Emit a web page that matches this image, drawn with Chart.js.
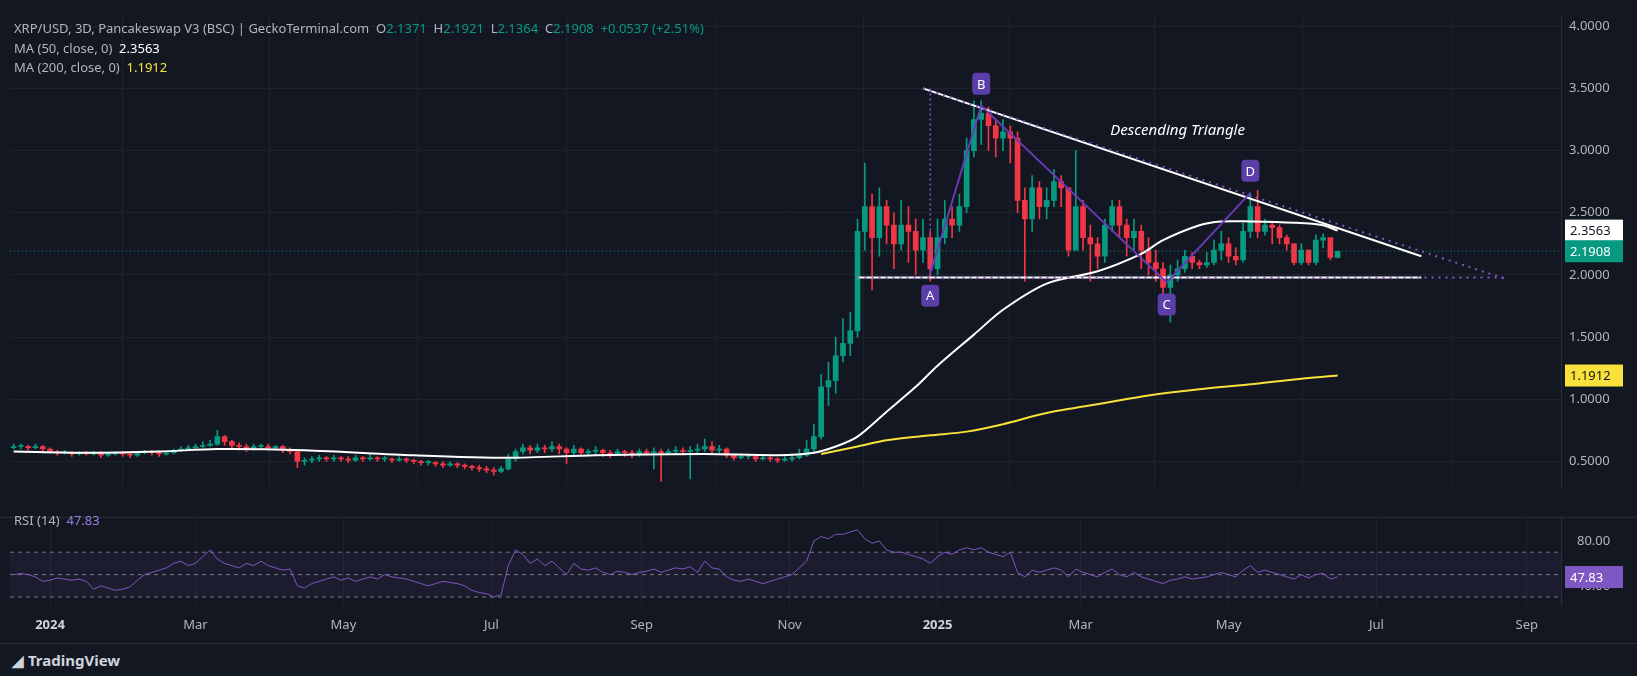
<!DOCTYPE html>
<html>
<head>
<meta charset="utf-8">
<script src="https://cdn.jsdelivr.net/npm/chart.js@4.4.1/dist/chart.umd.min.js"></script>
<style>
  body { margin: 0; background: #131722; width: 1637px; height: 676px; overflow: hidden; font-family: "Noto Sans", sans-serif; }
  .wrap { position: absolute; left: 0; width: 1637px; }
  #mainWrap { top: 0; height: 503px; }
  #rsiWrap { top: 503px; height: 140px; }
  .txt { position: absolute; color: #b2b5be; font-size: 13px; white-space: nowrap; }
  .g { color: #089981; }
  #footer { position: absolute; left: 0; top: 643px; width: 1637px; height: 33px; background: #131722; border-top: 1px solid #2a2e39; }
</style>
</head>
<body>
<div id="mainWrap" class="wrap"><canvas id="mainChart"></canvas></div>
<div id="rsiWrap" class="wrap"><canvas id="rsiChart"></canvas></div>
<div id="footer"></div>

<div class="txt" style="left:14px;top:19px">XRP/USD, 3D, Pancakeswap V3 (BSC) | GeckoTerminal.com&nbsp;&nbsp;O<span class="g">2.1371</span>&nbsp;&nbsp;H<span class="g">2.1921</span>&nbsp;&nbsp;L<span class="g">2.1364</span>&nbsp;&nbsp;C<span class="g">2.1908</span>&nbsp;&nbsp;<span class="g">+0.0537 (+2.51%)</span></div>
<div class="txt" style="left:14px;top:39px">MA (50, close, 0)&nbsp;&nbsp;<span style="color:#fff">2.3563</span></div>
<div class="txt" style="left:14px;top:58px">MA (200, close, 0)&nbsp;&nbsp;<span style="color:#f7e13a">1.1912</span></div>
<div class="txt" style="left:14px;top:511px">RSI (14)&nbsp;&nbsp;<span style="color:#9b7de0">47.83</span></div>
<div class="txt" style="left:12px;top:650px;color:#d1d4dc;font-size:15px;font-weight:bold;">&#9698; TradingView</div>

<script>
// 3-day candles, index 0 = 2023-12-17
const closes = [
  0.62,0.62,0.61,0.62,0.60,
  0.58,0.57,0.57,0.56,0.57,0.56,0.57,0.55,0.56,0.57,
  0.56,0.55,0.57,0.58,0.57,0.56,0.57,0.59,0.60,0.61,
  0.62,0.63,0.64,0.70,0.66,0.63,0.62,0.61,0.62,0.62,
  0.61,0.62,0.59,0.58,0.50,0.51,0.52,0.53,0.52,0.53,
  0.52,0.51,0.53,0.52,0.53,0.52,0.52,0.51,0.52,0.51,
  0.50,0.49,0.49,0.48,0.47,0.48,0.47,0.46,0.45,0.44,
  0.43,0.42,0.44,0.52,0.58,0.61,0.59,0.61,0.60,0.62,
  0.60,0.57,0.60,0.57,0.58,0.59,0.57,0.56,0.58,0.57,
  0.56,0.58,0.57,0.58,0.57,0.58,0.59,0.58,0.59,0.60,
  0.62,0.59,0.60,0.55,0.53,0.54,0.54,0.52,0.53,0.52,
  0.51,0.52,0.53,
  0.55,0.60,0.70,1.10,1.15,1.35,1.45,1.55,2.35,
  2.55,2.30,2.55,2.40,2.25,2.40,2.35,2.20,2.30,
  2.05,2.30,2.45,2.40,2.55,3.00,3.25,
  3.30,3.20,3.10,3.15,3.10,2.60,
  2.45,2.70,2.55,2.60,2.75,2.70,2.20,2.55,
  2.30,2.25,2.15,2.40,2.55,2.40,2.30,2.35,2.20,2.10,2.05,1.90,
  2.00,
  2.05,2.15,2.10,2.08,2.10,2.20,2.25,2.15,2.12,2.35,2.55,2.35,2.40,2.38,2.30,2.25,2.10,2.20,2.10,2.28,2.30,2.14,2.1908
];
const highs = [
  0.64,0.64,0.63,0.64,0.63,
  0.61,0.59,0.59,0.58,0.58,0.58,0.58,0.58,0.57,0.58,
  0.58,0.57,0.58,0.59,0.59,0.58,0.58,0.60,0.62,0.63,
  0.64,0.66,0.67,0.75,0.71,0.67,0.65,0.64,0.64,0.64,
  0.64,0.63,0.63,0.61,0.59,0.53,0.54,0.55,0.54,0.55,
  0.54,0.54,0.55,0.54,0.56,0.54,0.54,0.53,0.54,0.53,
  0.52,0.51,0.51,0.50,0.50,0.50,0.49,0.48,0.47,0.47,
  0.46,0.45,0.46,0.56,0.60,0.64,0.63,0.64,0.63,0.66,
  0.64,0.61,0.63,0.61,0.60,0.62,0.60,0.59,0.60,0.59,
  0.59,0.60,0.60,0.61,0.60,0.60,0.62,0.61,0.62,0.64,
  0.68,0.66,0.63,0.61,0.56,0.56,0.56,0.55,0.55,0.54,
  0.53,0.54,0.56,
  0.60,0.67,0.80,1.20,1.30,1.50,1.65,1.70,2.45,
  2.90,2.65,2.70,2.60,2.50,2.60,2.55,2.45,2.45,
  2.35,2.45,2.60,2.55,2.65,3.10,3.40,
  3.40,3.35,3.25,3.25,3.20,3.15,
  2.70,2.80,2.75,2.70,2.85,2.80,2.70,3.00,
  2.60,2.40,2.30,2.45,2.60,2.60,2.45,2.45,2.40,2.30,2.20,2.10,
  2.08,
  2.12,2.20,2.18,2.12,2.18,2.28,2.35,2.30,2.22,2.42,2.66,2.68,2.45,2.42,2.40,2.32,2.25,2.25,2.20,2.32,2.33,2.28,2.1921
];
const lows = [
  0.60,0.60,0.59,0.60,0.58,
  0.57,0.55,0.56,0.54,0.55,0.55,0.55,0.53,0.54,0.55,
  0.54,0.53,0.54,0.56,0.55,0.54,0.55,0.56,0.58,0.59,
  0.60,0.61,0.62,0.63,0.63,0.60,0.59,0.58,0.59,0.60,
  0.59,0.59,0.57,0.56,0.45,0.47,0.49,0.50,0.50,0.50,
  0.50,0.49,0.50,0.50,0.51,0.50,0.50,0.49,0.50,0.49,
  0.48,0.47,0.47,0.46,0.45,0.46,0.45,0.44,0.43,0.42,
  0.41,0.39,0.41,0.43,0.50,0.56,0.56,0.57,0.57,0.58,
  0.56,0.48,0.55,0.55,0.55,0.56,0.54,0.53,0.55,0.54,
  0.53,0.54,0.55,0.44,0.34,0.55,0.56,0.55,0.36,0.57,
  0.58,0.57,0.57,0.53,0.51,0.52,0.52,0.50,0.51,0.50,
  0.49,0.50,0.50,
  0.52,0.54,0.58,0.68,0.95,1.05,1.30,1.35,1.50,
  2.20,1.88,2.15,2.25,2.05,2.20,2.10,2.00,2.10,
  1.95,2.00,2.25,2.30,2.35,2.50,2.95,
  3.05,3.00,2.95,3.00,2.90,2.50,
  1.95,2.35,2.45,2.45,2.55,2.55,2.15,2.20,
  2.20,1.95,2.05,2.10,2.35,2.30,2.15,2.20,2.05,2.00,1.95,1.85,
  1.62,
  1.95,2.02,2.05,2.05,2.06,2.08,2.12,2.10,2.08,2.10,2.30,2.30,2.32,2.25,2.25,2.20,2.08,2.08,2.08,2.08,2.22,2.12,2.1364
];
const firstOpen = 0.61;

// moving averages (candle index, value)
const ma50Idx = [0, 10, 20, 28, 40, 55, 68, 80, 95, 105, 110, 113, 116, 120, 124, 127, 132, 136, 142, 149, 155, 158, 163, 166, 170, 176, 180, 182];
const ma50Val = [0.58, 0.57, 0.58, 0.60, 0.59, 0.55, 0.53, 0.55, 0.56, 0.55, 0.57, 0.62, 0.70, 0.90, 1.10, 1.27, 1.52, 1.72, 1.93, 2.03, 2.17, 2.28, 2.40, 2.43, 2.43, 2.42, 2.40, 2.3563];
const ma200Idx = [111, 116, 120, 126, 131, 136, 142, 150, 156, 163, 170, 176, 182];
const ma200Val = [0.56, 0.62, 0.67, 0.71, 0.74, 0.80, 0.89, 0.97, 1.03, 1.08, 1.12, 1.16, 1.1912];

const rsi = [
  50,51,50,48,44,45,47,46,45,46,
  44,37,40,38,36,37,39,45,50,52,
  54,56,60,62,58,60,66,72,64,60,
  58,56,60,58,62,58,56,54,55,40,
  38,42,44,46,48,45,47,44,46,48,
  46,50,48,47,46,44,42,40,42,44,
  43,42,40,36,34,33,30,32,58,72,
  68,60,64,58,62,56,50,60,55,54,
  56,52,50,53,52,50,52,53,55,52,
  54,56,55,57,52,62,56,55,48,45,
  44,46,44,42,44,46,48,50,56,62,
  80,84,82,86,86,88,90,82,78,80,
  72,70,70,68,66,64,60,66,70,68,
  72,74,72,74,70,68,66,70,52,48,
  54,52,54,56,54,48,55,52,50,48,
  52,55,50,48,52,48,46,44,42,45,
  46,48,46,47,48,50,52,50,48,54,
  58,52,54,52,50,48,46,50,47,50,
  51,46,47.83
];

// x axis: month starts as candle index
const tickIdx = [5, 25, 45.33, 65.67, 86.33, 106.67, 127, 146.67, 167, 187.33, 208];
const tickLabels = ['2024', 'Mar', 'May', 'Jul', 'Sep', 'Nov', '2025', 'Mar', 'May', 'Jul', 'Sep'];
const priceTicks = [0.5, 1.0, 1.5, 2.0, 2.5, 3.0, 3.5, 4.0];

// pattern points (candle index, price)
const triTop = [[125, 3.5], [193.5, 2.15], [205, 1.97]];
const triBase = [[116, 1.98], [193.5, 1.98], [205, 1.98]];
const abcd = [['A', 126, 2.01], ['B', 133, 3.36], ['C', 158.5, 1.94], ['D', 170, 2.66]];

const UP = '#089981', DOWN = '#f23645', GRID = '#1e222d', TXT = '#b2b5be';
const X_MIN = -0.5, X_MAX = 212.7;

const opens = closes.map((c, i) => i === 0 ? firstOpen : closes[i - 1]);
const colors = closes.map((c, i) => c >= opens[i] ? UP : DOWN);

function xScale(drawTicks) {
  return {
    type: 'linear', min: X_MIN, max: X_MAX, offset: false,
    afterBuildTicks: s => { s.ticks = tickIdx.map(v => ({ value: v })); },
    grid: { color: GRID, drawTicks: false },
    border: { display: false },
    ticks: {
      display: drawTicks, maxRotation: 0, autoSkip: false, padding: 12,
      color: ctx => /^\d/.test(tickLabels[ctx.index]) ? '#d1d4dc' : TXT,
      font: ctx => ({ family: 'Noto Sans', size: 13, weight: /^\d/.test(tickLabels[ctx.index]) ? 'bold' : 'normal' }),
      callback: (v, i) => tickLabels[i]
    },
    afterFit: s => { s.height = drawTicks ? 38 : 0; }
  };
}

function tag(ctx, y, text, bg, fg, x) {
  ctx.font = '13px Noto Sans';
  ctx.fillStyle = bg;
  ctx.fillRect(x, y - 11, 58, 22);
  ctx.fillStyle = fg;
  ctx.textAlign = 'left'; ctx.textBaseline = 'middle';
  ctx.fillText(text, x + 5, y + 1);
}

const patternPlugin = {
  id: 'pattern',
  afterDatasetsDraw(chart) {
    const { ctx, scales: { x, y }, chartArea } = chart;
    const px = p => [x.getPixelForValue(p[0]), y.getPixelForValue(p[1])];
    ctx.save();
    // current price dotted line
    ctx.strokeStyle = UP; ctx.lineWidth = 1; ctx.setLineDash([1, 3]);
    const yc = y.getPixelForValue(closes[closes.length - 1]);
    ctx.beginPath(); ctx.moveTo(chartArea.left, yc); ctx.lineTo(chartArea.right, yc); ctx.stroke();

    [triTop, triBase].forEach(line => {
      const a = px(line[0]), b = px(line[1]), c = px(line[2]);
      ctx.setLineDash([]); ctx.strokeStyle = '#ffffff'; ctx.lineWidth = 2;
      ctx.beginPath(); ctx.moveTo(a[0], a[1]); ctx.lineTo(b[0], b[1]); ctx.stroke();
      ctx.setLineDash([2, 5]); ctx.strokeStyle = '#7e57c2'; ctx.lineWidth = 2;
      ctx.beginPath(); ctx.moveTo(a[0], a[1]); ctx.lineTo(c[0], c[1]); ctx.stroke();
    });
    // vertical dotted from A to top
    const v1 = px([126, 3.5]), v2 = px([126, 1.98]);
    ctx.setLineDash([2, 3]); ctx.lineWidth = 1.5;
    ctx.beginPath(); ctx.moveTo(v1[0], v1[1]); ctx.lineTo(v2[0], v2[1]); ctx.stroke();

    // ABCD path
    ctx.setLineDash([]); ctx.strokeStyle = '#673ab7'; ctx.lineWidth = 2;
    ctx.beginPath();
    abcd.forEach((p, i) => { const q = px([p[1], p[2]]); i ? ctx.lineTo(q[0], q[1]) : ctx.moveTo(q[0], q[1]); });
    ctx.stroke();
    abcd.forEach(p => {
      const q = px([p[1], p[2]]);
      const above = p[0] === 'B' || p[0] === 'D';
      const cy = above ? q[1] - 22 : q[1] + 22;
      ctx.fillStyle = '#5b3ea8';
      ctx.beginPath(); ctx.roundRect(q[0] - 9, cy - 11, 18, 22, 4); ctx.fill();
      ctx.fillStyle = '#ffffff'; ctx.font = '13px Noto Sans';
      ctx.textAlign = 'center'; ctx.textBaseline = 'middle';
      ctx.fillText(p[0], q[0], cy + 1);
    });
    const t = px([160, 3.16]);
    ctx.font = 'italic 15px Noto Sans'; ctx.fillStyle = '#ffffff';
    ctx.textAlign = 'center'; ctx.fillText('Descending Triangle', t[0], t[1]);

    // price tags
    const tx = chartArea.right + 4;
    tag(ctx, y.getPixelForValue(2.3563), '2.3563', '#ffffff', '#131722', tx);
    tag(ctx, yc, '2.1908', UP, '#ffffff', tx);
    tag(ctx, y.getPixelForValue(1.1912), '1.1912', '#f7e13a', '#131722', tx);
    ctx.restore();
  }
};

new Chart(document.getElementById('mainChart'), {
  type: 'bar',
  data: {
    datasets: [
      { type: 'line', data: ma50Idx.map((v, i) => ({ x: v, y: ma50Val[i] })), borderColor: '#ffffff', borderWidth: 2, pointRadius: 0, tension: 0.3, order: 0 },
      { type: 'line', data: ma200Idx.map((v, i) => ({ x: v, y: ma200Val[i] })), borderColor: '#f7e13a', borderWidth: 2, pointRadius: 0, tension: 0.3, order: 0 },
      { data: closes.map((c, i) => ({ x: i, y: [lows[i], highs[i]] })), backgroundColor: colors, barThickness: 1, grouped: false, order: 2 },
      { data: closes.map((c, i) => ({ x: i, y: [opens[i], c] })), backgroundColor: colors, barThickness: 5, minBarLength: 1, grouped: false, order: 1 }
    ]
  },
  options: {
    responsive: true, maintainAspectRatio: false, animation: false,
    layout: { padding: { left: 10, top: 6, bottom: 2, right: 0 } },
    plugins: { legend: { display: false }, tooltip: { enabled: false } },
    scales: {
      x: xScale(false),
      y: {
        position: 'right', min: 0.293, max: 4.084,
        afterBuildTicks: s => { s.ticks = priceTicks.map(v => ({ value: v })); },
        grid: { color: GRID, drawTicks: false },
        border: { display: true, color: '#2a2e39' },
        ticks: { color: TXT, font: { family: 'Noto Sans', size: 13 }, padding: 8, callback: v => v.toFixed(4) },
        afterFit: s => { s.width = 76; }
      }
    }
  },
  plugins: [patternPlugin]
});

const rsiPlugin = {
  id: 'rsiBand',
  beforeDatasetsDraw(chart) {
    const { ctx, scales: { x, y }, chartArea } = chart;
    ctx.save();
    ctx.fillStyle = 'rgba(126,87,194,0.08)';
    ctx.fillRect(chartArea.left, y.getPixelForValue(70), chartArea.width, y.getPixelForValue(30) - y.getPixelForValue(70));
    ctx.strokeStyle = '#787b86'; ctx.setLineDash([4, 4]); ctx.lineWidth = 1;
    [70, 50, 30].forEach(v => {
      const yy = y.getPixelForValue(v);
      ctx.beginPath(); ctx.moveTo(chartArea.left, yy); ctx.lineTo(chartArea.right, yy); ctx.stroke();
    });
    ctx.restore();
  },
  afterDatasetsDraw(chart) {
    const { ctx, scales: { y }, chartArea } = chart;
    ctx.save();
    ctx.setLineDash([]);
    ctx.strokeStyle = '#2a2e39'; ctx.lineWidth = 1;
    ctx.beginPath(); ctx.moveTo(0, chartArea.top - 1.5); ctx.lineTo(chart.width, chartArea.top - 1.5); ctx.stroke();
    tag(ctx, y.getPixelForValue(47.83), '47.83', '#7e57c2', '#ffffff', chartArea.right + 4);
    ctx.restore();
  }
};

new Chart(document.getElementById('rsiChart'), {
  type: 'line',
  data: {
    datasets: [{ data: rsi.map((v, i) => ({ x: i, y: v })), borderColor: '#7e57c2', borderWidth: 1, pointRadius: 0 }]
  },
  options: {
    responsive: true, maintainAspectRatio: false, animation: false,
    layout: { padding: { left: 10, top: 2, bottom: 0, right: 0 } },
    plugins: { legend: { display: false }, tooltip: { enabled: false } },
    scales: {
      x: xScale(true),
      y: {
        position: 'right', min: 22.9, max: 99.8,
        afterBuildTicks: s => { s.ticks = [{ value: 40 }, { value: 80 }]; },
        grid: { display: false },
        border: { display: true, color: '#2a2e39' },
        ticks: { color: TXT, font: { family: 'Noto Sans', size: 13 }, padding: 8, callback: v => v.toFixed(2) },
        afterFit: s => { s.width = 76; }
      }
    }
  },
  plugins: [rsiPlugin]
});
</script>
</body>
</html>
